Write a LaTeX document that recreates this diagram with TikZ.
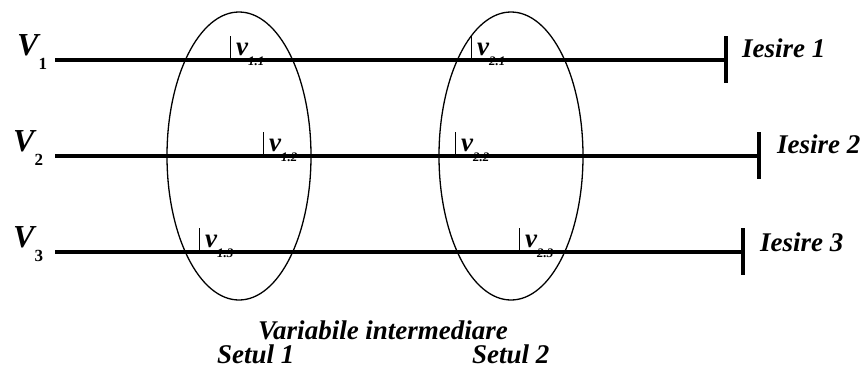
\documentclass[tikz,border=0pt]{standalone}
\usepackage{fontspec}
\setmainfont{Liberation Serif}
\usetikzlibrary{calc}
\usetikzlibrary{positioning}
\usetikzlibrary{shapes.geometric}

\tikzset{
  lbl/.style={anchor=base west, inner sep=0pt, font=\fontsize{27}{29}\selectfont\bfseries\itshape},
  wire/.style={line width=3.4pt},
  tick/.style={line width=1pt},
  setring/.style={draw, ellipse, line width=1.3pt, inner sep=0pt,
    minimum width=144pt, minimum height=288pt}
}
\newcommand{\bigV}[1]{{\fontsize{32}{34}\selectfont V}\raisebox{-14pt}{\fontsize{17}{17}\selectfont\upshape #1}}
\newcommand{\smallv}[1]{v\raisebox{-10pt}{\fontsize{13}{13}\selectfont #1}}

\begin{document}
\begin{tikzpicture}[x=1pt, y=-1pt]
    \useasboundingbox (0,0) rectangle (862,376);

    % inputs
    \node[lbl] (V1) at (17,55) {\bigV{1}};
    \node[lbl] (V2) at (13,151) {\bigV{2}};
    \node[lbl] (V3) at (13,247) {\bigV{3}};

    % intermediate variables (drawn before the wires)
    \foreach \n/\xt/\yb/\s in {v11/230/60/1.1, v21/471/60/2.1,
                               v12/263/156/1.2, v22/455/156/2.2,
                               v13/199/252/1.3, v23/519/252/2.3}{
      \coordinate (t\n) at (\xt,\yb);
      \node[lbl] (\n) at (\xt+6,\yb-5) {\smallv{\s}};
      \draw[tick] (t\n) -- ++(0,-24);
    }

    % wires with end bars
    \foreach \i/\y/\xe in {1/60/726, 2/156/759, 3/252/743}{
      \coordinate (s\i) at (55,\y);
      \coordinate (e\i) at (\xe,\y);
      \draw[wire] (s\i) -- (e\i);
      \draw[wire] ($(e\i)+(0,-24)$) -- ($(e\i)+(0,23)$);
    }

    % outputs
    \node[lbl] (out1) at (742,57) {Iesire 1};
    \node[lbl] (out2) at (777,153) {Iesire 2};
    \node[lbl] (out3) at (760,251) {Iesire 3};

    % the two sets
    \node[setring] (set1) at (239,156) {};
    \node[setring] (set2) at (511,156) {};

    \node[lbl] (title) at (258,339) {Variabile intermediare};
    \node[lbl] (name1) at (217,363) {Setul 1};
    \node[lbl] (name2) at (472,363) {Setul 2};

  \end{tikzpicture}
\end{document}
